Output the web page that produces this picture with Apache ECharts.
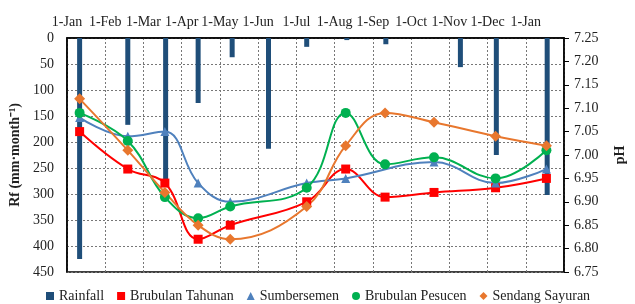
<!DOCTYPE html>
<html>
<head>
<meta charset="utf-8">
<script src="https://cdn.jsdelivr.net/npm/echarts@6/dist/echarts.min.js"></script>
<style>
  html, body { margin: 0; padding: 0; background: #fff; }
  #main { width: 635px; height: 304px; }
</style>
</head>
<body>
<div id="main"></div>
<script>
// top axis labels (one per month gridline)
var monthLabels = ['1-Jan', '1-Feb', '1-Mar', '1-Apr', '1-May', '1-Jun', '1-Jul',
                   '1-Aug', '1-Sep', '1-Oct', '1-Nov', '1-Dec', '1-Jan'];

// rainfall: position in months from 1-Jan, and mm/month
var rainX = [0.33, 1.59, 2.58, 3.43, 4.32, 5.27, 6.27, 7.32, 8.34, 10.29, 11.23, 12.56];
var rainVal = [425, 167, 285, 125, 37, 213, 17, 4, 12, 56, 225, 302];

// pH sampling positions (months from 1-Jan)
var phX = [0.33, 1.59, 2.56, 3.43, 4.27, 6.27, 7.29, 8.32, 9.60, 11.21, 12.54];
var tahunan = [7.05, 6.97, 6.94, 6.82, 6.85, 6.90, 6.97, 6.91, 6.92, 6.93, 6.95];
var pesucen = [7.09, 7.03, 6.91, 6.865, 6.89, 6.93, 7.09, 6.98, 6.995, 6.95, 7.01];
var sayuran = [7.12, 7.01, 6.92, 6.85, 6.82, 6.89, 7.02, 7.09, 7.07, 7.04, 7.02];
// Sumbersemen has no sample on 1-Sep
var semenX = [0.33, 1.59, 2.56, 3.43, 4.27, 6.27, 7.29, 9.60, 11.21, 12.54];
var semen = [7.08, 7.04, 7.05, 6.94, 6.90, 6.94, 6.95, 6.985, 6.94, 6.97];

var pair = function (xs, ys) {
    var res = [];
    for (var i = 0; i < xs.length; i++) {
        res.push([xs[i], ys[i]]);
    }
    return res;
};

var font = 'Liberation Serif';
var txt = '#222';

var myChart = echarts.init(document.getElementById('main'));

var lineSeries = function (name, xs, ys, color, symbol, size) {
    return {
        name: name,
        type: 'line',
        yAxisIndex: 1,
        smooth: 0.4,
        data: pair(xs, ys),
        symbol: symbol,
        symbolSize: size,
        showAllSymbol: true,
        lineStyle: { color: color, width: 2 },
        itemStyle: { color: color },
        z: 3
    };
};

var legendText = { fontFamily: font, fontSize: 14, color: txt };

var option = {
    animation: false,
    textStyle: { fontFamily: font },
    grid: {
        left: 67, right: 60, top: 38, bottom: 32,
        show: true, borderColor: '#000', borderWidth: 1.5
    },
    legend: {
        left: 41, top: 284,
        itemWidth: 8, itemHeight: 8, itemGap: 13,
        textStyle: legendText,
        data: [
            { name: 'Rainfall', icon: 'rect', textStyle: legendText },
            { name: 'Brubulan Tahunan', icon: 'rect', textStyle: legendText },
            { name: 'Sumbersemen', icon: 'triangle', textStyle: legendText },
            { name: 'Brubulan Pesucen', icon: 'circle', textStyle: legendText },
            { name: 'Sendang Sayuran', icon: 'diamond', textStyle: legendText }
        ]
    },
    xAxis: {
        type: 'value',
        position: 'top',
        min: 0, max: 13, interval: 1,
        axisLine: { show: true, lineStyle: { color: '#000', width: 1.5 } },
        axisTick: { show: false },
        axisLabel: {
            fontFamily: font, fontSize: 14, color: txt, margin: 9,
            formatter: function (v) { return monthLabels[v] || ''; }
        },
        splitLine: { show: true, lineStyle: { color: '#777', type: [2, 2], width: 1 } }
    },
    yAxis: [{
        type: 'value',
        inverse: true,
        min: 0, max: 450, interval: 50,
        name: 'Rf (mm·month⁻¹)',
        nameLocation: 'middle',
        nameGap: 42,
        nameTextStyle: { fontFamily: font, fontSize: 14, fontWeight: 'bold', color: txt },
        axisLine: { show: true, lineStyle: { color: '#000', width: 1.5 } },
        axisTick: { show: false },
        axisLabel: { fontFamily: font, fontSize: 14, color: txt, margin: 13 },
        splitLine: { show: true, lineStyle: { color: '#777', type: [2, 2], width: 1 } }
    }, {
        type: 'value',
        min: 6.75, max: 7.25, interval: 0.05,
        name: 'pH',
        nameLocation: 'middle',
        nameGap: 49,
        nameTextStyle: { fontFamily: font, fontSize: 14, fontWeight: 'bold', color: txt },
        axisLine: { show: true, lineStyle: { color: '#000', width: 1.5 } },
        axisTick: { show: true, length: 5, lineStyle: { color: '#000' } },
        axisLabel: {
            fontFamily: font, fontSize: 14, color: txt, margin: 10,
            formatter: function (v) { return v.toFixed(2); }
        },
        splitLine: { show: false }
    }],
    series: [
        {
            name: 'Rainfall',
            type: 'bar',
            yAxisIndex: 0,
            barWidth: 5,
            data: pair(rainX, rainVal),
            itemStyle: { color: '#1F4E79' },
            z: 2
        },
        lineSeries('Brubulan Tahunan', phX, tahunan, '#FF0000', 'rect', 9),
        lineSeries('Sumbersemen', semenX, semen, '#4F81BD', 'triangle', 9),
        lineSeries('Brubulan Pesucen', phX, pesucen, '#00B050', 'circle', 10),
        lineSeries('Sendang Sayuran', phX, sayuran, '#E8772E', 'diamond', 11)
    ]
};

myChart.setOption(option);
</script>
</body>
</html>
